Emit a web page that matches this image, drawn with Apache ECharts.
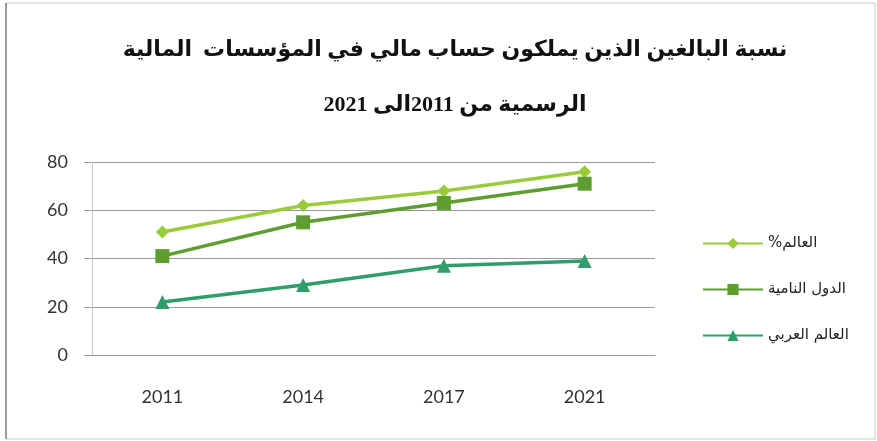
<!DOCTYPE html>
<html>
<head>
<meta charset="utf-8">
<script src="https://cdn.jsdelivr.net/npm/echarts@6/dist/echarts.min.js"></script>
<style>html,body{margin:0;padding:0;background:#fff}#c{width:877px;height:441px}</style>
</head>
<body>
<div id="c"></div>
<script>
const titleLines = ["نسبة البالغين الذين يملكون حساب مالي في المؤسسات  المالية", "الرسمية من 2011الى 2021"];
const categories = ["2011", "2014", "2017", "2021"];
const seriesNames = ["%العالم", "الدول النامية", "العالم العربي"];
const worldValues = [51, 62, 68, 76];
const developingValues = [41, 55, 63, 71];
const arabValues = [22, 29, 37, 39];
const yTicks = [0, 20, 40, 60, 80];

const chart = echarts.init(document.getElementById('c'), null, {renderer: 'canvas'});
const colors = ['#9acb3a', '#5e9e30', '#2f9e6a'];
const symbols = ['diamond', 'rect', 'triangle'];
const sizes = [13, 14, 14];
const datas = [worldValues, developingValues, arabValues];

chart.setOption({
  animation: false,
  backgroundColor: '#fff',
  title: {
    text: titleLines.join('\n'),
    left: 450, top: 18, textAlign: 'center',
    textStyle: {fontFamily: '"Liberation Serif", "DejaVu Sans", serif', fontSize: 22, fontWeight: 'bold', color: '#111', lineHeight: 55}
  },
  legend: {
    orient: 'vertical', left: 697, top: 231, itemGap: 31, itemWidth: 60, itemHeight: 14,
    data: seriesNames,
    textStyle: {fontFamily: '"DejaVu Sans", sans-serif', fontSize: 15, color: '#222'}
  },
  grid: {left: 92, right: 222, top: 162, bottom: 86, containLabel: false},
  xAxis: {
    type: 'category', data: categories, boundaryGap: true,
    axisLine: {show: true, lineStyle: {color: '#999'}},
    axisTick: {show: false},
    axisLabel: {fontFamily: 'Lato, "Open Sans", sans-serif', fontSize: 18, color: '#333', margin: 33}
  },
  yAxis: {
    type: 'value', min: yTicks[0], max: yTicks[yTicks.length - 1], interval: 20,
    axisLine: {show: true, lineStyle: {color: '#c8c8c8'}},
    axisTick: {show: true, length: 8, lineStyle: {color: '#999'}},
    splitLine: {lineStyle: {color: '#999', width: 1}},
    axisLabel: {fontFamily: 'Lato, "Open Sans", sans-serif', fontSize: 18, color: '#333', margin: 24}
  },
  series: seriesNames.map((n, i) => ({
    name: n, type: 'line', data: datas[i],
    symbol: symbols[i], symbolSize: sizes[i],
    lineStyle: {color: colors[i], width: 3.5},
    itemStyle: {color: colors[i]}
  })),
  graphic: [
    {type: 'rect', shape: {x: 6, y: 3, width: 869, height: 436}, style: {fill: 'none', stroke: '#c8c8c8', lineWidth: 1}},
    {type: 'line', shape: {x1: 6, y1: 3, x2: 6, y2: 439}, style: {stroke: '#999', lineWidth: 2}}
  ]
});
</script>
</body>
</html>
